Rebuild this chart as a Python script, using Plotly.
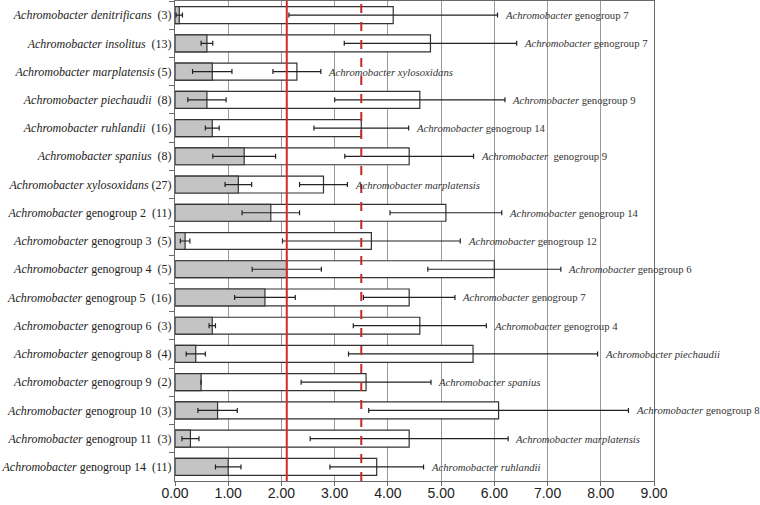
import plotly.graph_objects as go

species = [
    "<i>Achromobacter denitrificans</i>\u00a0 (3)",
    "<i>Achromobacter insolitus</i>\u00a0 (13)",
    "<i>Achromobacter marplatensis</i> (5)",
    "<i>Achromobacter piechaudii</i>\u00a0 (8)",
    "<i>Achromobacter ruhlandii</i>\u00a0 (16)",
    "<i>Achromobacter spanius</i>\u00a0 (8)",
    "<i>Achromobacter xylosoxidans</i> (27)",
    "<i>Achromobacter</i> genogroup 2\u00a0 (11)",
    "<i>Achromobacter</i> genogroup 3\u00a0 (5)",
    "<i>Achromobacter</i> genogroup 4\u00a0 (5)",
    "<i>Achromobacter</i> genogroup 5\u00a0 (16)",
    "<i>Achromobacter</i> genogroup 6\u00a0 (3)",
    "<i>Achromobacter</i> genogroup 8\u00a0 (4)",
    "<i>Achromobacter</i> genogroup 9\u00a0 (2)",
    "<i>Achromobacter</i> genogroup 10\u00a0 (3)",
    "<i>Achromobacter</i> genogroup 11\u00a0 (3)",
    "<i>Achromobacter</i> genogroup 14\u00a0 (11)",
]
intra_mean = [0.08, 0.60, 0.70, 0.60, 0.70, 1.30, 1.19, 1.80, 0.19, 2.10, 1.69, 0.70, 0.39, 0.49, 0.80, 0.29, 1.00]
intra_sd = [0.06, 0.11, 0.37, 0.36, 0.13, 0.59, 0.25, 0.54, 0.09, 0.65, 0.57, 0.06, 0.18, 0.0, 0.37, 0.16, 0.24]
inter_mean = [4.10, 4.80, 2.29, 4.60, 3.50, 4.40, 2.79, 5.09, 3.69, 6.00, 4.40, 4.60, 5.60, 3.59, 6.08, 4.40, 3.79]
inter_sd = [1.96, 1.62, 0.45, 1.60, 0.89, 1.21, 0.45, 1.05, 1.67, 1.25, 0.86, 1.25, 2.34, 1.22, 2.44, 1.86, 0.88]
closest = [
    "<i>Achromobacter</i> genogroup 7",
    "<i>Achromobacter</i> genogroup 7",
    "<i>Achromobacter xylosoxidans</i>",
    "<i>Achromobacter</i> genogroup 9",
    "<i>Achromobacter</i> genogroup 14",
    "<i>Achromobacter</i>\u00a0 genogroup 9",
    "<i>Achromobacter marplatensis</i>",
    "<i>Achromobacter</i> genogroup 14",
    "<i>Achromobacter</i> genogroup 12",
    "<i>Achromobacter</i> genogroup 6",
    "<i>Achromobacter</i> genogroup 7",
    "<i>Achromobacter</i> genogroup 4",
    "<i>Achromobacter piechaudii</i>",
    "<i>Achromobacter spanius</i>",
    "<i>Achromobacter</i> genogroup 8",
    "<i>Achromobacter marplatensis</i>",
    "<i>Achromobacter ruhlandii</i>",
]
threshold_solid = 2.1
threshold_dashed = 3.5
x_ticks = [0, 1, 2, 3, 4, 5, 6, 7, 8, 9]

fig = go.Figure()
fig.add_trace(go.Bar(
    y=species, x=inter_mean, orientation="h", width=0.6,
    marker=dict(color="white", line=dict(color="#333333", width=1.2)),
    error_x=dict(type="data", array=inter_sd, color="#222222", thickness=1.2, width=2.5),
    showlegend=False, hoverinfo="skip",
))
fig.add_trace(go.Bar(
    y=species, x=intra_mean, orientation="h", width=0.6,
    marker=dict(color="#c4c4c4", line=dict(color="#333333", width=1.2)),
    error_x=dict(type="data", array=intra_sd, color="#222222", thickness=1.2, width=2.5),
    showlegend=False, hoverinfo="skip",
))

fig.add_vline(x=threshold_solid, line=dict(color="#d42a2a", width=2))
fig.add_vline(x=threshold_dashed, line=dict(color="#c62828", width=2, dash="dash"))

for s, m, sd, lab in zip(species, inter_mean, inter_sd, closest):
    fig.add_annotation(x=m + sd + 0.1, y=s, text=lab, showarrow=False,
                       xanchor="left", yanchor="middle",
                       font=dict(family="Liberation Serif", size=10.7, color="#333333"))

fig.update_layout(
    width=760, height=505,
    margin=dict(l=175, r=106, t=1, b=24, autoexpand=False),
    barmode="overlay",
    plot_bgcolor="white", paper_bgcolor="white",
)
fig.update_xaxes(
    range=[0, 9], tickvals=x_ticks, ticktext=[f"{v:.2f}" for v in x_ticks],
    showgrid=True, gridcolor="#9a9a9a", gridwidth=1,
    showline=True, linecolor="#6a6a6a", linewidth=1, mirror=True,
    ticks="outside", ticklen=4, tickcolor="#6a6a6a",
    tickfont=dict(family="Liberation Sans", size=14, color="#222222"),
    ticklabelstandoff=-5,
    zeroline=False, automargin=False,
)
fig.update_yaxes(
    autorange="reversed", type="category",
    showline=True, linecolor="#6a6a6a", linewidth=1, mirror=True,
    ticks="outside", ticklen=5, tickcolor="#6a6a6a", tickson="boundaries",
    tickfont=dict(family="Liberation Serif", size=12, color="#222222"),
    showgrid=False, automargin=False,
)

fig.write_html("out.html", config={"displayModeBar": False},
               post_script="document.body.style.margin='0';document.body.style.overflow='hidden';")
